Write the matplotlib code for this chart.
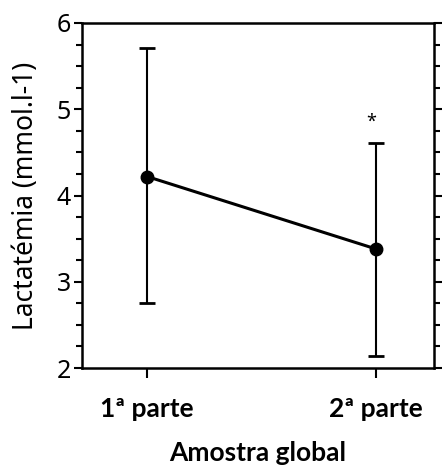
import matplotlib
matplotlib.use('Agg')
import matplotlib.pyplot as plt
from matplotlib.ticker import MultipleLocator

# --- Data ---
categories = ["1ª parte", "2ª parte"]
means = [4.22, 3.38]
upper = [5.71, 4.61]
lower = [2.75, 2.14]
star_y = 4.86

x = [1, 2]
err_lo = [m - l for m, l in zip(means, lower)]
err_hi = [u - m for u, m in zip(upper, means)]

plt.rcParams['font.family'] = ['Noto Sans', 'DejaVu Sans']
bold_font = ['Lato', 'DejaVu Sans']

fig = plt.figure(figsize=(4.42, 4.71), dpi=100)
ax = fig.add_axes([82 / 442, 1 - 368 / 471, 352 / 442, 345 / 471])

ax.errorbar(x, means, yerr=[err_lo, err_hi], fmt='o-', color='black',
            lw=2.2, elinewidth=1.5, capsize=6, capthick=2, markersize=9)
ax.text(x[1] - 0.02, star_y, '*', ha='center', va='center', fontsize=13,
        fontweight='bold')

ax.set_xlim(0.716, 2.253)
ax.set_ylim(2, 6)
ax.set_xticks(x)
ax.set_xticklabels(categories, fontsize=19, fontweight='bold', family=bold_font)
ax.yaxis.set_major_locator(MultipleLocator(1))
ax.yaxis.set_minor_locator(MultipleLocator(0.25))
ax.tick_params(axis='y', which='major', labelsize=18, length=6, width=1.5,
               direction='out', right=True, pad=2)
ax.tick_params(axis='y', which='minor', length=4, width=1.5,
               direction='out', right=True)
ax.tick_params(axis='x', length=7, width=1.5, direction='out', pad=14)

for s in ax.spines.values():
    s.set_linewidth(1.8)

ax.set_ylabel('Lactatémia (mmol.l-1)', fontsize=19, labelpad=12)
ax.set_xlabel('Amostra global', fontsize=19, fontweight='bold',
              family=bold_font, labelpad=14)

plt.savefig('out.png', dpi=100)
